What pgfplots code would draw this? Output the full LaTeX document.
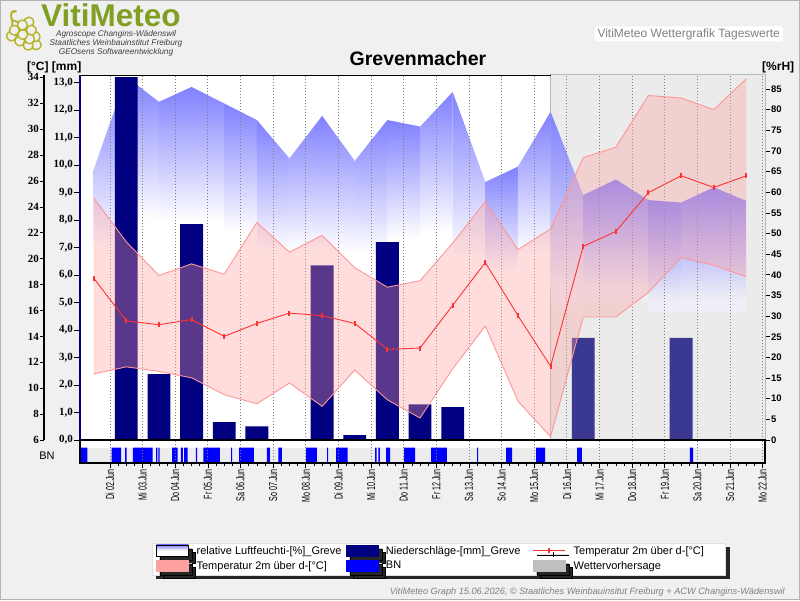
\documentclass[border=0pt]{standalone}
\usepackage{pgfplots}
\pgfplotsset{compat=1.18}
\usepackage{fontspec}
\setmainfont{Liberation Sans}
\newfontfamily\serifb{Liberation Serif}
\newfontfamily\narrow[FakeStretch=0.62]{Liberation Sans}
\newfontfamily\emoji{Noto Emoji}
\usetikzlibrary{shadows}
\definecolor{bg}{RGB}{240,240,240}
\definecolor{hum}{RGB}{128,128,255}
\definecolor{pinkband}{RGB}{255,160,160}
\definecolor{pinkline}{RGB}{255,150,150}
\definecolor{templine}{RGB}{255,50,50}
\definecolor{navy}{RGB}{0,0,128}
\definecolor{navyfc}{RGB}{58,56,144}
\definecolor{fcgrey}{RGB}{235,235,235}
\definecolor{fcbottom}{RGB}{238,238,246}
\definecolor{logogreen}{RGB}{128,160,36}
\definecolor{grape}{RGB}{180,180,40}
\definecolor{bngrey}{RGB}{236,236,236}
\pgfdeclareverticalshading{humshade}{100bp}{color(0bp)=(white); color(35bp)=(white); color(75bp)=(hum); color(100bp)=(hum)}
\pgfdeclareverticalshading{humshadefc}{100bp}{color(0bp)=(fcbottom); color(30bp)=(fcbottom); color(75bp)=(hum); color(100bp)=(hum)}

\pgfplotstableread{
x     up    lo    mean
1.5   24.7  11.1  18.5
2.5   21.3  11.65 15.2
3.5   18.7  11.3  14.9
4.5   19.6  10.8  15.3
5.5   18.8  9.5   14.0
6.5   22.8  8.8   15.0
7.5   20.5  10.4  15.8
8.5   21.8  8.6   15.6
9.5   19.3  11.4  15.0
10.5  17.8  9.1   13.0
11.5  18.3  7.7   13.1
12.5  21.2  11.5  16.4
13.5  24.4  14.8  19.7
14.5  20.7  9.0   15.6
15.5  22.3  6.25  11.7
16.5  27.8  15.5  20.95
17.5  28.6  15.5  22.1
18.5  32.6  17.4  25.1
19.5  32.4  20.1  26.4
20.5  31.5  19.5  25.5
21.5  33.9  18.6  26.4
}\temps

\begin{document}
\begin{tikzpicture}[x=1pt,y=1pt]
\fill[bg] (0,0) rectangle (800,-600);
\draw[gray!60] (0.5,-0.5) rectangle (799.5,-599.5);
\useasboundingbox (0,0) rectangle (800,-600);

% ---------- humidity axis (right) ----------
\begin{axis}[at={(80pt,-440pt)}, anchor=south west, scale only axis,
  width=685pt, height=365pt,
  xmin=1.081, xmax=22.07, ymin=0, ymax=88.4,
  axis x line=none, axis y line*=right,
  y axis line style={draw=hum, line width=2pt},
  ytick={0,5,...,85}, tick align=outside, major tick length=5pt,
  y tick style={black, line width=0.7pt},
  yticklabel style={font=\bfseries\fontsize{9.5}{9.5}\selectfont, inner sep=1pt},
  /pgf/number format/assume math mode=true,
  clip=false]
\addplot[fill=white, draw=none] coordinates {(1.081,88.4) (15.5,88.4)} \closedcycle;
\addplot[fill=fcgrey, draw=gray!55, line width=1pt] coordinates {(15.5,88.4) (22.07,88.4)} \closedcycle;
\addplot[draw=none, shade, shading=humshade] coordinates {(1.5,36) (1.5,65.5) (2.5,88) (2.5,36)} -- cycle;
\addplot[draw=none, shade, shading=humshade] coordinates {(2.5,45) (2.5,88) (3.5,81.9) (3.5,45)} -- cycle;
\addplot[draw=none, shade, shading=humshade] coordinates {(3.5,45) (3.5,81.9) (4.5,85.5) (4.5,45)} -- cycle;
\addplot[draw=none, shade, shading=humshade] coordinates {(4.5,45) (4.5,85.5) (5.5,81.5) (5.5,45)} -- cycle;
\addplot[draw=none, shade, shading=humshade] coordinates {(5.5,42.6) (5.5,81.5) (6.5,77.5) (6.5,42.6)} -- cycle;
\addplot[draw=none, shade, shading=humshade] coordinates {(6.5,37.5) (6.5,77.5) (7.5,68.2) (7.5,37.5)} -- cycle;
\addplot[draw=none, shade, shading=humshade] coordinates {(7.5,37.5) (7.5,68.2) (8.5,78.5) (8.5,37.5)} -- cycle;
\addplot[draw=none, shade, shading=humshade] coordinates {(8.5,37.2) (8.5,78.5) (9.5,67.6) (9.5,37.2)} -- cycle;
\addplot[draw=none, shade, shading=humshade] coordinates {(9.5,37.2) (9.5,67.6) (10.5,77.5) (10.5,37.2)} -- cycle;
\addplot[draw=none, shade, shading=humshade] coordinates {(10.5,41.7) (10.5,77.5) (11.5,75.9) (11.5,41.7)} -- cycle;
\addplot[draw=none, shade, shading=humshade] coordinates {(11.5,41.7) (11.5,75.9) (12.5,84.3) (12.5,41.7)} -- cycle;
\addplot[draw=none, shade, shading=humshade] coordinates {(12.5,34.4) (12.5,84.3) (13.5,62.5) (13.5,34.4)} -- cycle;
\addplot[draw=none, shade, shading=humshade] coordinates {(13.5,34.4) (13.5,62.5) (14.5,66.2) (14.5,34.4)} -- cycle;
\addplot[draw=none, shade, shading=humshade] coordinates {(14.5,36.4) (14.5,66.2) (15.5,79.5) (15.5,36.4)} -- cycle;
\addplot[draw=none, shade, shading=humshadefc] coordinates {(15.5,32.6) (15.5,79.5) (16.5,59.3) (16.5,32.6)} -- cycle;
\addplot[draw=none, shade, shading=humshadefc] coordinates {(16.5,33.5) (16.5,59.3) (17.5,63.1) (17.5,33.5)} -- cycle;
\addplot[draw=none, shade, shading=humshadefc] coordinates {(17.5,33.5) (17.5,63.1) (18.5,58.1) (18.5,33.5)} -- cycle;
\addplot[draw=none, shade, shading=humshadefc] coordinates {(18.5,31) (18.5,58.1) (19.5,57.5) (19.5,31)} -- cycle;
\addplot[draw=none, shade, shading=humshadefc] coordinates {(19.5,31) (19.5,57.5) (20.5,61.2) (20.5,31)} -- cycle;
\addplot[draw=none, shade, shading=humshadefc] coordinates {(20.5,31) (20.5,61.2) (21.5,57.9) (21.5,31)} -- cycle;
\end{axis}

% ---------- precipitation axis (mm) ----------
\begin{axis}[at={(80pt,-440pt)}, anchor=south west, scale only axis,
  width=685pt, height=365pt,
  xmin=1.081, xmax=22.07, ymin=0, ymax=13.28,
  axis x line*=bottom, axis y line*=left,
  x axis line style={black, line width=2pt},
  y axis line style={navy, line width=2pt},
  xtick={2,...,22}, xticklabels={}, major x tick style={draw=none},
  xmajorgrids, major x grid style={dash pattern=on 1pt off 2pt, gray, line width=0.9pt},
  ytick={0,...,13},
  yticklabels={{0,0},{1,0},{2,0},{3,0},{4,0},{5,0},{6,0},{7,0},{8,0},{9,0},{10,0},{11,0},{12,0},{13,0}},
  tick align=outside, major tick length=6pt,
  y tick style={black, line width=0.7pt},
  yticklabel style={font=\serifb\bfseries\fontsize{11}{11}\selectfont, inner sep=1pt},
  clip=false]
\addplot[ybar, bar width=0.7, bar shift=0pt, fill=navy, draw=none] coordinates {
(2.5,13.2) (3.5,2.4) (4.5,7.85) (5.5,0.65) (6.5,0.5) (8.5,6.35) (9.5,0.18) (10.5,7.2) (11.5,1.3) (12.5,1.2)};
\addplot[ybar, bar width=0.7, bar shift=0pt, fill=navyfc, draw=none] coordinates {(16.5,3.72) (19.5,3.72)};
\addplot[black, line width=1pt] coordinates {(1.081,13.28) (15.5,13.28)};
\end{axis}

% ---------- temperature axis ----------
\begin{axis}[at={(80pt,-440pt)}, anchor=south west, scale only axis,
  width=685pt, height=365pt,
  xmin=1.081, xmax=22.07, ymin=6, ymax=34.18, hide axis]
\addplot[draw=none, fill=pinkband, fill opacity=0.35] coordinates {
(1.5,24.7) (2.5,21.3) (3.5,18.7) (4.5,19.6) (5.5,18.8) (6.5,22.8) (7.5,20.5) (8.5,21.8) (9.5,19.3) (10.5,17.8) (11.5,18.3) (12.5,21.2) (13.5,24.4) (14.5,20.7) (15.5,22.3) (16.5,27.8) (17.5,28.6) (18.5,32.6) (19.5,32.4) (20.5,31.5) (21.5,33.9)
(21.5,18.6) (20.5,19.5) (19.5,20.1) (18.5,17.4) (17.5,15.5) (16.5,15.5) (15.5,6.25) (14.5,9.0) (13.5,14.8) (12.5,11.5) (11.5,7.7) (10.5,9.1) (9.5,11.4) (8.5,8.6) (7.5,10.4) (6.5,8.8) (5.5,9.5) (4.5,10.8) (3.5,11.3) (2.5,11.65) (1.5,11.1)} -- cycle;
\addplot[pinkline, line width=0.9pt] table[x=x, y=up] {\temps};
\addplot[pinkline, line width=0.9pt] table[x=x, y=lo] {\temps};
\addplot[templine, line width=0.9pt, mark=|, mark size=2.5pt, mark options={line width=2pt}] table[x=x, y=mean] {\temps};
\end{axis}

% ---------- outer celsius scale ----------
\begin{axis}[at={(44pt,-440pt)}, anchor=south west, scale only axis,
  width=1pt, height=365pt, xmin=0, xmax=1, ymin=6, ymax=34.18,
  axis x line=none, axis y line*=left,
  y axis line style={black, line width=1.6pt},
  ytick={6,8,...,34}, tick align=outside, major tick length=4pt,
  y tick style={black, line width=0.7pt},
  yticklabel style={font=\serifb\bfseries\fontsize{11}{11}\selectfont, inner sep=1pt},
  /pgf/number format/assume math mode=true]
\addplot[draw=none] coordinates {(0,6)};
\end{axis}

% ---------- BN strip ----------
\begin{axis}[at={(80pt,-463pt)}, anchor=south west, scale only axis,
  width=685pt, height=23pt,
  xmin=1.081, xmax=22.07, ymin=0, ymax=1.5,
  axis on top, axis line style={black, line width=1.6pt},
  ytick=\empty, xtick={2,...,22}, minor x tick num=3, xtick pos=left,
  tick align=outside, major tick length=5pt, minor tick length=3pt,
  x tick style={black, line width=0.7pt},
  xmajorgrids, major x grid style={dash pattern=on 1pt off 2pt, gray, line width=0.9pt},
  xticklabels={Di 02.Jun, Mi 03.Jun, Do 04.Jun, Fr 05.Jun, Sa 06.Jun, So 07.Jun, Mo 08.Jun, Di 09.Jun, Mi 10.Jun, Do 11.Jun, Fr 12.Jun, Sa 13.Jun, So 14.Jun, Mo 15.Jun, Di 16.Jun, Mi 17.Jun, Do 18.Jun, Fr 19.Jun, Sa 20.Jun, So 21.Jun, Mo 22.Jun},
  xticklabel style={rotate=90, anchor=east, font=\narrow\fontsize{11.5}{11.5}\selectfont, inner sep=1pt},
  legend columns=3,
  legend cell align=left,
  legend style={at={(0.1051,-3.478)}, anchor=north west, draw=gray!25, fill=white,
    general shadow={fill=black!85, shadow xshift=4pt, shadow yshift=-4pt},
    font=\fontsize{11}{12}\selectfont, inner xsep=4pt, inner ysep=1pt, row sep=0pt,
    /tikz/every odd column/.append style={column sep=3pt},
    /tikz/every even column/.append style={column sep=0pt}},
  clip=false]
\addplot[forget plot, fill=white, draw=none] coordinates {(1.081,1.5) (22.07,1.5)} \closedcycle;
\addplot[forget plot, fill=bngrey, draw=none] coordinates {(1.081,1) (22.07,1)} \closedcycle;
\addplot[forget plot, const plot, fill=blue, draw=none] coordinates {
(1.081,0) (1.09,1) (1.31,0) (2.05,1) (2.34,0) (2.46,1) (2.51,0) (2.70,1) (3.31,0)
(3.41,1) (3.45,0) (3.48,1) (3.52,0) (3.90,1) (4.07,0) (4.17,1) (4.23,0) (4.27,1) (4.38,0)
(4.63,1) (4.67,0) (4.86,1) (5.37,0) (5.71,1) (5.74,0) (5.96,1) (6.41,0) (6.81,1) (6.90,0)
(7.16,1) (7.27,0) (8.01,1) (8.34,0) (8.65,1) (8.68,0) (8.93,1) (9.28,0) (10.12,1) (10.17,0)
(10.22,1) (10.27,0) (10.46,1) (10.58,0) (11.01,1) (11.35,0) (11.84,1) (12.32,0) (13.25,1) (13.28,0)
(14.14,1) (14.32,0) (15.06,1) (15.33,0) (16.31,1) (16.46,0) (19.77,1) (19.87,0) (22.07,0)} \closedcycle;
\addlegendimage{legend image code/.code={\fill[gray!45] (3pt,-8pt) rectangle (35pt,3pt); \shade[top color=hum, bottom color=white, middle color=white] (0pt,-5pt) rectangle (32pt,6pt);}}
\addlegendentry{\makebox[147pt][l]{relative Luftfeuchti-[\%]\_Greve}}
\addlegendimage{legend image code/.code={\fill[gray!45] (3pt,-8pt) rectangle (35pt,3pt); \fill[navy] (0pt,-5pt) rectangle (32pt,6pt);}}
\addlegendentry{\makebox[145pt][l]{Niederschläge-[mm]\_Greve}}
\addlegendimage{legend image code/.code={\draw[templine, line width=0.9pt] (0pt,0pt) -- (32pt,0pt); \draw[templine, line width=2pt] (16pt,-2.5pt) -- (16pt,2.5pt);}}
\addlegendentry{\makebox[146pt][l]{Temperatur 2m über d-[°C]}}
\addlegendimage{legend image code/.code={\fill[gray!45] (3pt,-8pt) rectangle (35pt,3pt); \fill[pinkband] (0pt,-5pt) rectangle (32pt,6pt);}}
\addlegendentry{Temperatur 2m über d-[°C]}
\addlegendimage{legend image code/.code={\fill[gray!45] (3pt,-8pt) rectangle (35pt,3pt); \fill[blue] (0pt,-5pt) rectangle (32pt,6pt);}}
\addlegendentry{BN}
\addlegendimage{legend image code/.code={\fill[gray!45] (3pt,-8pt) rectangle (35pt,3pt); \fill[gray!50] (0pt,-5pt) rectangle (32pt,6pt);}}
\addlegendentry{Wettervorhersage}
\end{axis}

% ---------- texts ----------
\node[anchor=base west, font=\bfseries\fontsize{12}{12}\selectfont, inner sep=0pt] at (27,-70) {[°C] [mm]};
\node[anchor=base west, font=\bfseries\fontsize{12}{12}\selectfont, inner sep=0pt] at (762,-70) {[\%rH]};
\node[anchor=base, font=\bfseries\fontsize{19.5}{20}\selectfont, inner sep=0pt] at (418,-65) {Grevenmacher};
\node[anchor=center, font=\fontsize{11}{11}\selectfont, inner sep=0pt] at (47,-456) {BN};
\node[anchor=base east, fill=white, rounded corners=2pt, inner xsep=3pt, inner ysep=2pt, text=gray, font=\fontsize{12}{12}\selectfont] at (783,-37) {VitiMeteo Wettergrafik Tageswerte};
\node[anchor=base east, text=gray, font=\itshape\fontsize{9.2}{10}\selectfont, inner sep=0pt] at (785,-594) {VitiMeteo Graph 15.06.2026, © Staatliches Weinbauinsitut Freiburg + ACW Changins-Wädenswil};
% logo
\node[anchor=center, inner sep=0pt, text=grape, font=\emoji\fontsize{40}{40}\selectfont] at (24,-31) {🍇};
\node[anchor=base west, inner sep=0pt, text depth=0pt, text=logogreen, font=\bfseries\fontsize{31.5}{31.5}\selectfont] at (41,-26.5) {VitiMeteo};
\node[anchor=base, inner sep=0pt, text height=5.5pt, text depth=1.5pt, text=black!75, font=\itshape\fontsize{8.3}{9}\selectfont] at (116,-36.5) {Agroscope Changins-Wädenswil};
\node[anchor=base, inner sep=0pt, text height=5.5pt, text depth=1.5pt, text=black!75, font=\itshape\fontsize{8.3}{9}\selectfont] at (116,-45.5) {Staatliches Weinbauinstitut Freiburg};
\node[anchor=base, inner sep=0pt, text height=5.5pt, text depth=1.5pt, text=black!75, font=\itshape\fontsize{8.3}{9}\selectfont] at (116,-54) {GEOsens Softwareentwicklung};
\end{tikzpicture}
\end{document}
